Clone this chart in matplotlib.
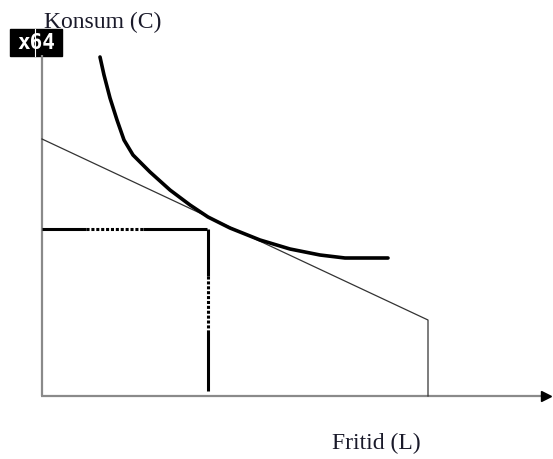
import numpy as np
import matplotlib
matplotlib.use('Agg')
import matplotlib.pyplot as plt

# drawing units follow the picture (x right, y down)
curve_x = [100, 104, 110, 117, 124, 133, 150, 170, 190, 208, 230, 260, 290, 320, 345, 388]
curve_y = [57, 75, 98, 120, 140, 155, 172, 190, 205, 217, 228, 240, 249, 255, 258, 258]

budget_x = [42, 428, 428]
budget_y = [139, 320, 396]

opt_x = 208
opt_y = 229
origin_x = 42
origin_y = 396

# segments of the broken guide lines: (start, end, dotted?)
h_parts = [(42, 86, False), (86, 143, True), (143, 207, False)]
v_parts = [(229, 276, False), (276, 330, True), (330, 391, False)]

fig = plt.figure(figsize=(5.53, 4.59), dpi=100)
ax = fig.add_axes([0, 0, 1, 1])
ax.set_xlim(0, 553)
ax.set_ylim(459, 0)
ax.axis('off')

# axes
ax.plot([origin_x, origin_x], [55, origin_y], color='#8a8a8a', lw=1.6, solid_capstyle='butt')
ax.plot([origin_x - 1, 543], [origin_y, origin_y], color='#8a8a8a', lw=1.6, solid_capstyle='butt')
ax.plot([546], [origin_y], marker='>', color='black', markersize=6.5, lw=0)

# budget line
ax.plot(budget_x, budget_y, color='#333333', lw=0.9)

# indifference curve
ax.plot(curve_x, curve_y, color='black', lw=2.6, solid_capstyle='round', solid_joinstyle='round')

# guide lines
for a, b, dotted in h_parts:
    ax.plot([a, b], [opt_y, opt_y], color='black', lw=2.2,
            linestyle=(0, (1, 0.6)) if dotted else '-', solid_capstyle='butt')
for a, b, dotted in v_parts:
    ax.plot([opt_x, opt_x], [a, b], color='black', lw=2.2,
            linestyle=(0, (1, 0.6)) if dotted else '-', solid_capstyle='butt')

# labels
ax.text(44, 22, 'Konsum (C)', family='Liberation Serif', fontsize=17,
        color='#1a1a2a', va='center', ha='left')
ax.text(332, 443, 'Fritid (L)', family='Liberation Serif', fontsize=17,
        color='#1a1a2a', va='center', ha='left')

# broken image marker
ax.add_patch(plt.Rectangle((10, 29), 52, 27, color='black'))
ax.plot([35, 35], [29, 56], color='white', lw=0.8)
ax.text(36, 43, 'x64', family='DejaVu Sans Mono', fontsize=15, fontweight='bold',
        color='white', va='center', ha='center')

plt.savefig('out.png', dpi=100)
